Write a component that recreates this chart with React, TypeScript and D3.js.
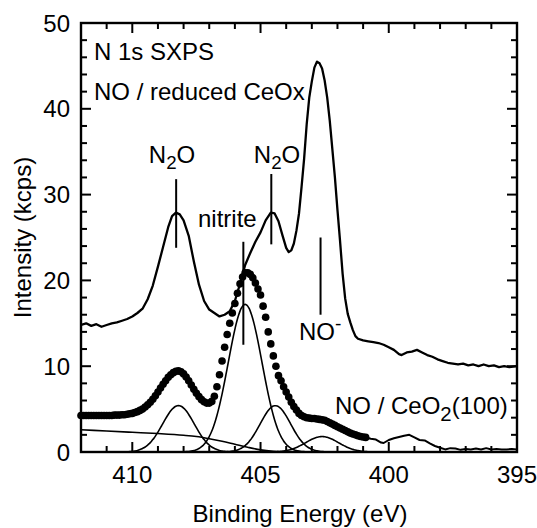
import React from 'react';
import * as d3 from 'd3';

const W = 537;
const H = 528;

// Axis ranges and tick values
const X_DOMAIN: [number, number] = [412, 395];
const Y_DOMAIN: [number, number] = [0, 50];
const xMajorTicks = [410, 405, 400, 395];
const xMinorTicks = [411, 409, 408, 407, 406, 404, 403, 402, 401, 399, 398, 397, 396];
const yMajorTicks = [0, 10, 20, 30, 40, 50];
const yMinorTicks = [2, 4, 6, 8, 12, 14, 16, 18, 22, 24, 26, 28, 32, 34, 36, 38, 42, 44, 46, 48];

// NO / reduced CeOx spectrum: [binding energy (eV), intensity (kcps)]
const reducedCeOx: [number, number][] = [
  [412.0, 14.8], [411.8, 15.0], [411.6, 14.7], [411.4, 14.9], [411.2, 14.6], [411.0, 14.8],
  [410.8, 15.0], [410.6, 15.1], [410.4, 15.3], [410.2, 15.5], [410.0, 15.8], [409.8, 16.2],
  [409.6, 16.7], [409.4, 17.8], [409.2, 19.4], [409.0, 21.6], [408.8, 23.9], [408.6, 26.2],
  [408.45, 27.5], [408.3, 27.9], [408.15, 27.7], [408.0, 27.0], [407.8, 25.2], [407.6, 22.2],
  [407.4, 19.5], [407.2, 17.6], [407.0, 16.6], [406.8, 16.2], [406.6, 15.8], [406.4, 16.0],
  [406.2, 16.4], [406.0, 17.6], [405.8, 19.6], [405.6, 21.8], [405.4, 23.2], [405.2, 24.5],
  [405.0, 25.6], [404.8, 27.0], [404.6, 27.9], [404.45, 27.8], [404.3, 26.9], [404.15, 25.3],
  [404.0, 23.8], [403.9, 23.3], [403.8, 23.5], [403.7, 24.3], [403.6, 25.8], [403.5, 27.8],
  [403.4, 30.9], [403.3, 34.2], [403.2, 38.2], [403.1, 41.3], [403.0, 43.2], [402.9, 44.8],
  [402.8, 45.5], [402.7, 45.3], [402.6, 44.7], [402.5, 43.3], [402.4, 41.3], [402.3, 38.6],
  [402.2, 35.3], [402.1, 32.0], [402.0, 28.2], [401.9, 24.6], [401.8, 20.8], [401.7, 17.9],
  [401.6, 16.1], [401.5, 15.1], [401.4, 14.2], [401.3, 13.5], [401.2, 13.2], [401.0, 13.0],
  [400.8, 12.9], [400.6, 12.8], [400.4, 12.7], [400.2, 12.5], [400.0, 12.2], [399.8, 11.9],
  [399.6, 11.4], [399.5, 11.3], [399.3, 11.6], [399.1, 11.7], [398.9, 11.9], [398.7, 11.6],
  [398.5, 11.3], [398.3, 11.1], [398.1, 10.8], [397.9, 10.6], [397.7, 10.4], [397.5, 10.3],
  [397.3, 10.2], [397.1, 10.3], [396.9, 10.1], [396.7, 10.2], [396.5, 10.0], [396.3, 10.2],
  [396.1, 10.0], [395.9, 10.1], [395.7, 9.9], [395.5, 10.0], [395.3, 9.9], [395.0, 10.0],
];

// NO / CeO2(100) spectrum, shown as markers: 0.1 eV steps starting at 412.0 eV
const ceo2Start = 412.0;
const ceo2Step = 0.1;
const ceo2Dots = [
  4.25, 4.25, 4.25, 4.25, 4.25, 4.25, 4.25, 4.25, 4.25, 4.25,
  4.25, 4.25, 4.25, 4.3, 4.3, 4.3, 4.35, 4.35, 4.4, 4.45,
  4.5, 4.6, 4.7, 4.85, 5.0, 5.25, 5.5, 5.8, 6.15, 6.55,
  7.0, 7.45, 7.9, 8.3, 8.7, 9.0, 9.25, 9.4, 9.45, 9.35,
  9.1, 8.75, 8.3, 7.8, 7.3, 6.85, 6.45, 6.1, 5.85, 5.7,
  5.7, 5.9, 6.5, 7.6, 9.0, 10.6, 12.2, 13.7, 15.0, 16.2,
  17.3, 18.5, 19.6, 20.4, 20.9, 20.9, 20.7, 20.3, 19.7, 19.0,
  18.3, 17.0, 15.7, 14.0, 12.6, 11.2, 10.0, 8.9, 8.3, 7.6,
  7.0, 6.4, 5.8, 5.3, 4.9, 4.5, 4.25, 4.1, 4.0, 3.95,
  3.9, 3.9, 3.85, 3.8, 3.75, 3.7, 3.55, 3.4, 3.25, 3.1,
  2.95, 2.8, 2.65, 2.5, 2.35, 2.2, 2.1, 2.0, 1.9, 1.8,
  1.75, 1.7,
];

// Continuation of the NO / CeO2(100) spectrum drawn as a line
const ceo2Tail: [number, number][] = [
  [400.9, 1.7], [400.7, 1.55], [400.5, 1.45], [400.3, 1.1], [400.2, 1.05], [400.0, 1.4],
  [399.8, 1.6], [399.6, 1.75], [399.4, 1.9], [399.2, 2.0], [399.0, 1.7], [398.8, 1.4],
  [398.6, 1.35], [398.4, 1.0], [398.2, 0.7], [398.0, 0.5], [397.8, 0.3], [397.6, 0.45],
  [397.4, 0.4], [397.2, 0.25], [397.0, 0.35], [396.8, 0.3], [396.6, 0.4], [396.4, 0.3],
  [396.2, 0.45], [396.0, 0.3], [395.8, 0.35], [395.6, 0.3], [395.4, 0.3], [395.2, 0.35],
  [395.0, 0.3],
];

// Fitted Gaussian components of the NO / CeO2(100) spectrum
const fitCenters = [408.2, 405.6, 404.42, 402.6];
const fitHeights = [5.4, 17.2, 5.4, 1.8];
const fitFwhm = [1.45, 1.55, 1.4, 1.5];

// Background used in the fit
const fitBackground: [number, number][] = [
  [412.0, 2.6], [411.0, 2.45], [410.0, 2.3], [409.0, 2.15], [408.0, 1.95], [407.5, 1.8],
  [407.0, 1.55], [406.5, 1.25], [406.0, 0.9], [405.5, 0.55], [405.0, 0.25], [404.5, 0.08],
  [404.0, 0.0], [395.0, 0.0],
];

// Peak assignment markers: energy, line top, line bottom (kcps)
const markerEnergies = [408.29, 404.58, 405.67, 402.66];
const markerTops = [31.8, 32.4, 24.5, 25.0];
const markerBottoms = [23.8, 24.2, 12.5, 16.0];

const FONT = "'Liberation Sans', Arial, Helvetica, sans-serif";
const FS = 24;

export default function App() {
  const left = 81, right = 517, top = 23, bottom = 452;
  const x = d3.scaleLinear().domain(X_DOMAIN).range([left, right]);
  const y = d3.scaleLinear().domain(Y_DOMAIN).range([bottom, top]);

  const line = d3.line<[number, number]>()
    .x(d => x(d[0]))
    .y(d => y(d[1]));
  const smooth = d3.line<[number, number]>()
    .x(d => x(d[0]))
    .y(d => y(d[1]))
    .curve(d3.curveMonotoneX);

  const dots = ceo2Dots.map((v, i) => [ceo2Start - i * ceo2Step, v] as [number, number]);

  const grid = d3.range(412, 394.99, -0.05);
  const components = fitCenters.map((c, k) =>
    grid.map(e => [e, fitHeights[k] * Math.exp((-4 * Math.LN2 * (e - c) * (e - c)) / (fitFwhm[k] * fitFwhm[k]))] as [number, number])
  );

  const MAJ = 10, MIN = 6;

  return (
    <svg width={W} height={H} style={{ position: 'absolute', left: 0, top: 0, background: '#fff' }}
      fontFamily={FONT}>
      <defs>
        <clipPath id="plotArea">
          <rect x={left} y={top} width={right - left} height={bottom - top} />
        </clipPath>
      </defs>

      <g clipPath="url(#plotArea)" fill="none" stroke="#000">
        {components.map((c, k) => (
          <path key={k} d={smooth(c) || ''} strokeWidth={1.6} />
        ))}
        <path d={smooth(fitBackground) || ''} strokeWidth={1.6} />
        <path d={line(reducedCeOx) || ''} strokeWidth={2.3} strokeLinejoin="round" />
        <path d={line(ceo2Tail) || ''} strokeWidth={2} strokeLinejoin="round" />
      </g>
      <g fill="#000">
        {dots.map((d, i) => (
          <circle key={i} cx={x(d[0])} cy={y(d[1])} r={3.8} />
        ))}
      </g>

      {/* assignment markers */}
      <g stroke="#000" strokeWidth={2}>
        {markerEnergies.map((e, i) => (
          <line key={i} x1={x(e)} x2={x(e)} y1={y(markerTops[i])} y2={y(markerBottoms[i])} />
        ))}
      </g>

      {/* frame and ticks */}
      <g stroke="#000" strokeWidth={2}>
        <rect x={left} y={top} width={right - left} height={bottom - top} fill="none" strokeWidth={2.4} />
        {xMajorTicks.map(t => (
          <g key={'xM' + t}>
            <line x1={x(t)} x2={x(t)} y1={bottom} y2={bottom - MAJ} />
            <line x1={x(t)} x2={x(t)} y1={top} y2={top + MAJ} />
          </g>
        ))}
        {xMinorTicks.map(t => (
          <g key={'xm' + t}>
            <line x1={x(t)} x2={x(t)} y1={bottom} y2={bottom - MIN} />
            <line x1={x(t)} x2={x(t)} y1={top} y2={top + MIN} />
          </g>
        ))}
        {yMajorTicks.map(t => (
          <g key={'yM' + t}>
            <line x1={left} x2={left + MAJ} y1={y(t)} y2={y(t)} />
            <line x1={right} x2={right - MAJ} y1={y(t)} y2={y(t)} />
          </g>
        ))}
        {yMinorTicks.map(t => (
          <g key={'ym' + t}>
            <line x1={left} x2={left + MIN} y1={y(t)} y2={y(t)} />
            <line x1={right} x2={right - MIN} y1={y(t)} y2={y(t)} />
          </g>
        ))}
      </g>

      {/* tick labels */}
      <g fontSize={FS} fill="#000">
        {yMajorTicks.map(t => (
          <text key={'yl' + t} x={70} y={y(t) + 8.5} textAnchor="end">{t}</text>
        ))}
        {xMajorTicks.map(t => (
          <text key={'xl' + t} x={x(t)} y={483} textAnchor="middle">{t}</text>
        ))}
        <text x={300} y={522} textAnchor="middle">Binding Energy (eV)</text>
        <text transform={`translate(31, ${(top + bottom) / 2}) rotate(-90)`} textAnchor="middle">Intensity (kcps)</text>
      </g>

      {/* annotations */}
      <g fontSize={FS} fill="#000">
        <text x={94} y={60}>N 1s SXPS</text>
        <text x={94} y={100}>NO / reduced CeOx</text>
        <text x={172} y={163} textAnchor="middle">N<tspan fontSize={FS * 0.78} dy={6}>2</tspan><tspan dy={-6}>O</tspan></text>
        <text x={277} y={163} textAnchor="middle">N<tspan fontSize={FS * 0.78} dy={6}>2</tspan><tspan dy={-6}>O</tspan></text>
        <text x={198} y={227}>nitrite</text>
        <text x={299} y={340}>NO<tspan fontSize={FS * 0.8} dy={-10}>-</tspan></text>
        <text x={335} y={414}>NO / CeO<tspan fontSize={FS * 0.85} dy={7}>2</tspan><tspan dy={-7}>(100)</tspan></text>
      </g>
    </svg>
  );
}
